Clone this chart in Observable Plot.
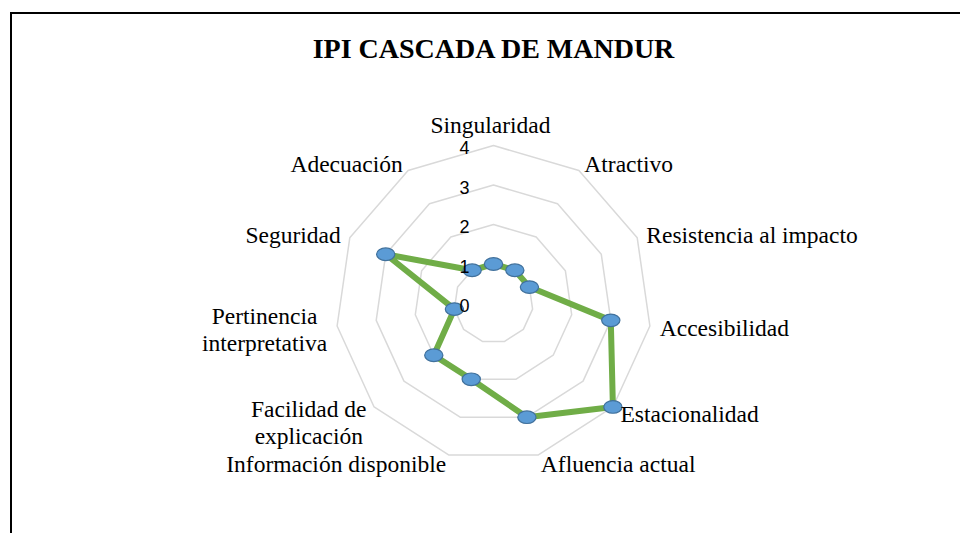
<!DOCTYPE html>
<html>
<head>
<meta charset="utf-8">
<script src="https://cdn.jsdelivr.net/npm/d3@7"></script>
<script src="https://cdn.jsdelivr.net/npm/@observablehq/plot@0.6"></script>
<style>
  html, body { margin: 0; padding: 0; background: #fff; overflow: hidden; width: 960px; height: 533px; }
  #frame { position: absolute; left: 10px; top: 12px; width: 960px; height: 540px;
           border-left: 2px solid #000; border-top: 2px solid #000; box-sizing: border-box; }
  #title { width: 948px; height: 70px; padding-left: 15px; padding-top: 18px; box-sizing: border-box;
           text-align: center; font: bold 28px/34px "Liberation Serif", "Times New Roman", serif; color: #000; }
  #chart svg { display: block; }
  #chart svg text.tick-lab { font-size: 18px; }
</style>
</head>
<body>
<div id="frame">
  <div id="title">IPI CASCADA DE MANDUR</div>
  <div id="chart"></div>
</div>
<script>
// ---- data ----
const categories = ["Singularidad", "Atractivo", "Resistencia al impacto", "Accesibilidad",
  "Estacionalidad", "Afluencia actual", "Información disponible", "Facilidad de explicación",
  "Pertinencia interpretativa", "Seguridad", "Adecuación"];
const categoryLabels = ["Singularidad", "Atractivo", "Resistencia al impacto", "Accesibilidad",
  "Estacionalidad", "Afluencia actual", "Información disponible", "Facilidad de\nexplicación",
  "Pertinencia\ninterpretativa", "Seguridad", "Adecuación"];
const values = [1, 1, 1, 3, 4, 3, 2, 2, 1, 3, 1];
const ticks = [0, 1, 2, 3, 4];
const tickLabels = ["0", "1", "2", "3", "4"];

// ---- polar helpers (data space) ----
const n = categories.length;
const maxV = d3.max(ticks);
const ang = i => 2 * Math.PI * i / n;
const px = (v, i) => v * Math.sin(ang(i));
const py = (v, i) => v * Math.cos(ang(i));

const rings = ticks.filter(t => t > 0).flatMap(t => categories.map((c, i) => ({ring: t, x: px(t, i), y: py(t, i)})));
const series = categories.map((c, i) => ({cat: c, value: values[i], x: px(values[i], i), y: py(values[i], i)}));
const tickData = ticks.map((t, k) => ({x: 0, y: t, label: tickLabels[k]}));

const labelFont = 23.5;
const labelFamily = '"Liberation Serif", "Times New Roman", serif';
const ctx = document.createElement("canvas").getContext("2d");
ctx.font = `${labelFont}px ${labelFamily}`;
const measure = s => ctx.measureText(s).width;

const lineH = 27;
const labelMarks = categoryLabels.map((lab, i) => {
  const s = Math.sin(ang(i)), c = Math.cos(ang(i));
  const lines = lab.split("\n");
  const w = Math.max(...lines.map(measure));
  let dx, dy;
  if (Math.abs(s) < 0.1) {
    dx = -3;
    dy = -c * (8 + lines.length * lineH / 2);
  } else {
    dx = 10 * s + Math.sign(s) * w / 2;
    dy = -c * (9 + (lines.length - 1) * lineH / 2);
  }
  return Plot.text([{x: px(maxV, i), y: py(maxV, i), label: lab}], {
    x: "x", y: "y", text: "label", dx, dy,
    textAnchor: "middle", lineAnchor: "middle", lineHeight: 1.15,
    fontSize: labelFont, fontFamily: labelFamily, fill: "#000"
  });
});

const ellipse = {
  draw(context, size) {
    const r = Math.sqrt(size / Math.PI);
    const a = r * 1.45, b = r, k = 0.5523;
    context.moveTo(a, 0);
    context.bezierCurveTo(a, k * b, k * a, b, 0, b);
    context.bezierCurveTo(-k * a, b, -a, k * b, -a, 0);
    context.bezierCurveTo(-a, -k * b, -k * a, -b, 0, -b);
    context.bezierCurveTo(k * a, -b, a, -k * b, a, 0);
    context.closePath();
  }
};

const W = 948, H = 449, cx = 481, cy = 219, R = 158;
const chart = Plot.plot({
  width: W, height: H,
  style: {background: "transparent", overflow: "visible"},
  x: {domain: [-maxV, maxV], range: [cx - R, cx + R], axis: null},
  y: {domain: [-maxV, maxV], range: [cy + R, cy - R], axis: null},
  marks: [
    Plot.line(rings, {x: "x", y: "y", z: "ring", curve: "linear-closed", stroke: "#d9d9d9", strokeWidth: 1.5}),
    Plot.line(series, {x: "x", y: "y", curve: "linear-closed", stroke: "#70ad47", strokeWidth: 6, strokeLinejoin: "round"}),
    Plot.dot(series, {x: "x", y: "y", r: 6.3, symbol: ellipse, fill: "#5b9bd5", stroke: "#41719c", strokeWidth: 1.2}),
    Plot.text(tickData, {x: "x", y: "y", text: "label", textAnchor: "end", lineAnchor: "middle", dx: -24, dy: 3,
      fontSize: 18, className: "tick-lab", fontFamily: '"Liberation Sans", "Open Sans", sans-serif', fill: "#000"}),
    ...labelMarks
  ]
});
document.getElementById("chart").appendChild(chart);
</script>
</body>
</html>
